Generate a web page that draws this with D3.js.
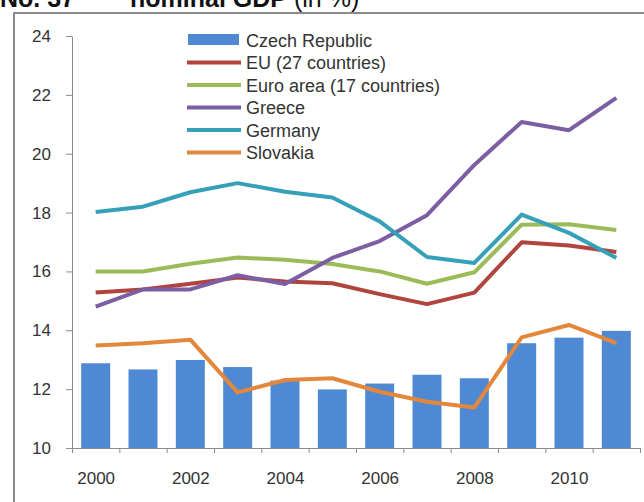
<!DOCTYPE html>
<html>
<head>
<meta charset="utf-8">
<script src="https://cdn.jsdelivr.net/npm/d3@7"></script>
<style>
  body { margin: 0; background: #fff; }
  svg { display: block; font-family: "Liberation Sans", Arial, sans-serif; }
</style>
</head>
<body>
<svg id="chart" width="644" height="502"></svg>
<script>
var years = [2000, 2001, 2002, 2003, 2004, 2005, 2006, 2007, 2008, 2009, 2010, 2011];
var yearLabels = [2000, 2002, 2004, 2006, 2008, 2010];
var yTicks = [10, 12, 14, 16, 18, 20, 22, 24];

var czech    = [12.88, 12.67, 12.99, 12.75, 12.29, 11.99, 12.19, 12.49, 12.37, 13.56, 13.75, 13.98];
var eu27     = [15.28, 15.39, 15.58, 15.79, 15.66, 15.60, 15.23, 14.89, 15.28, 16.99, 16.88, 16.66];
var euro17   = [16.00, 16.00, 16.26, 16.47, 16.40, 16.25, 16.00, 15.58, 15.97, 17.59, 17.60, 17.41];
var greece   = [14.80, 15.39, 15.39, 15.87, 15.57, 16.46, 17.03, 17.91, 19.62, 21.08, 20.80, 21.90];
var germany  = [18.02, 18.20, 18.69, 19.00, 18.71, 18.51, 17.70, 16.49, 16.29, 17.93, 17.31, 16.46];
var slovakia = [13.48, 13.56, 13.68, 11.89, 12.31, 12.37, 11.91, 11.57, 11.38, 13.76, 14.18, 13.56];

var lineSeries = [
  {name: "EU (27 countries)", values: eu27, color: "#b0443f"},
  {name: "Euro area (17 countries)", values: euro17, color: "#9bbb59"},
  {name: "Greece", values: greece, color: "#7b5ea3"},
  {name: "Germany", values: germany, color: "#35a0b8"},
  {name: "Slovakia", values: slovakia, color: "#e3873c"}
];

var svg = d3.select("#chart");

// title, cut off at the top like the source scan
var title = svg.append("text").attr("y", 7).attr("font-size", 25).attr("fill", "#111");
title.append("tspan").attr("x", 0).attr("font-weight", "bold").text("No. 37");
title.append("tspan").attr("x", 130).attr("font-weight", "bold").text("nominal GDP");
title.append("tspan").attr("dx", 7).attr("font-weight", "normal").text("(in %)");

// frame
svg.append("rect")
  .attr("x", 14).attr("y", 13)
  .attr("width", 700).attr("height", 600)
  .attr("fill", "none").attr("stroke", "#8a8a8a").attr("stroke-width", 2);

var x = d3.scaleLinear().domain([1999.5, 2011.5]).range([72, 640]);
var y = d3.scaleLinear().domain([10, 24]).range([448, 36]);
var barW = 29;

// bars
svg.append("g").selectAll("rect")
  .data(years)
  .join("rect")
  .attr("x", function(d) { return x(d) - barW / 2; })
  .attr("y", function(d, i) { return y(czech[i]); })
  .attr("width", barW)
  .attr("height", function(d, i) { return y(10) - y(czech[i]); })
  .attr("fill", "#5089d3");

// axes
svg.append("g")
  .attr("transform", "translate(72,0)")
  .call(d3.axisLeft(y).tickValues(yTicks).tickSize(6).tickPadding(15).tickSizeOuter(0));

svg.append("g")
  .attr("transform", "translate(0,448)")
  .call(d3.axisBottom(x).tickValues(d3.range(1999.5, 2012, 1)).tickSize(5).tickFormat("").tickSizeOuter(0));

var xLab = svg.append("g")
  .attr("transform", "translate(0,448)")
  .call(d3.axisBottom(x).tickValues(yearLabels).tickSize(0).tickPadding(24).tickFormat(d3.format("d")));
xLab.select(".domain").remove();

svg.selectAll(".domain, .tick line").attr("stroke", "#8c8c8c");
svg.selectAll(".tick text").attr("font-size", 17).attr("fill", "#333")
  .attr("font-family", "'Liberation Sans', Arial, sans-serif");

// lines
var line = d3.line()
  .x(function(d, i) { return x(years[i]); })
  .y(function(d) { return y(d); });

svg.append("g").selectAll("path")
  .data(lineSeries)
  .join("path")
  .attr("d", function(s) { return line(s.values); })
  .attr("fill", "none")
  .attr("stroke", function(s) { return s.color; })
  .attr("stroke-width", 4)
  .attr("stroke-linejoin", "round");

// legend
var legend = svg.append("g").attr("transform", "translate(187,40)");
var rowH = 22.5;
legend.append("rect")
  .attr("x", 1).attr("y", -6).attr("width", 51).attr("height", 11)
  .attr("fill", "#5089d3");
legend.append("text")
  .attr("x", 59).attr("y", 6.5)
  .attr("font-size", 18).attr("fill", "#333")
  .text("Czech Republic");

var items = legend.selectAll("g.item")
  .data(lineSeries)
  .join("g")
  .attr("class", "item")
  .attr("transform", function(d, i) { return "translate(0," + (rowH * (i + 1)) + ")"; });
items.append("line")
  .attr("x1", 0).attr("x2", 54).attr("y1", 0).attr("y2", 0)
  .attr("stroke", function(d) { return d.color; })
  .attr("stroke-width", 4);
items.append("text")
  .attr("x", 59).attr("y", 6.5)
  .attr("font-size", 18).attr("fill", "#333")
  .text(function(d) { return d.name; });
</script>
</body>
</html>
